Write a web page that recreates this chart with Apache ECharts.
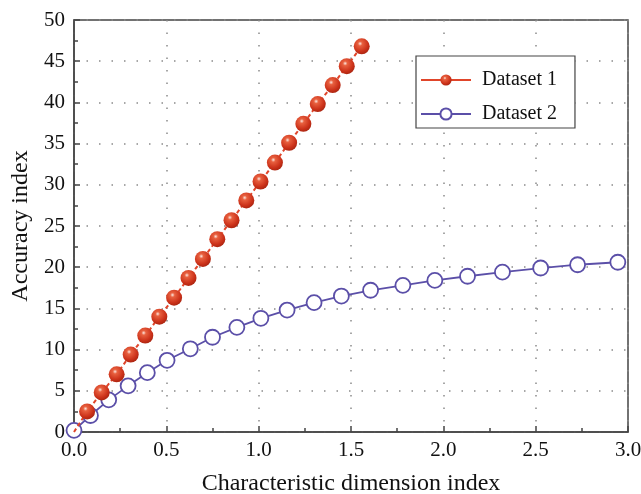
<!DOCTYPE html>
<html>
<head lang="en">
    <meta charset="UTF-8">
    <title>Accuracy index</title>
    <script src="https://cdn.jsdelivr.net/npm/echarts@6/dist/echarts.min.js"></script>
    <style>
        html, body { margin: 0; padding: 0; background: #fff; }
        #chart { width: 641px; height: 494px; }
    </style>
</head>
<body>
<div id="chart"></div>
<script>
    // values
    var dataset1X = [0, 0.071, 0.150, 0.231, 0.307, 0.386, 0.462, 0.542, 0.620, 0.698, 0.776,
                     0.853, 0.933, 1.010, 1.088, 1.165, 1.242, 1.320, 1.401, 1.477, 1.558];
    var dataset1Y = [0, 2.5, 4.8, 7.0, 9.4, 11.7, 14.0, 16.3, 18.7, 21.0, 23.4,
                     25.7, 28.1, 30.4, 32.7, 35.1, 37.4, 39.8, 42.1, 44.4, 46.8];
    var dataset2X = [0, 0.089, 0.188, 0.293, 0.397, 0.504, 0.630, 0.750, 0.882, 1.012, 1.154,
                     1.300, 1.448, 1.606, 1.781, 1.954, 2.131, 2.320, 2.527, 2.727, 2.945];
    var dataset2Y = [0.2, 2.0, 3.9, 5.6, 7.2, 8.7, 10.1, 11.5, 12.7, 13.8, 14.8,
                     15.7, 16.5, 17.2, 17.8, 18.4, 18.9, 19.4, 19.9, 20.3, 20.6];

    function pairs(xs, ys) {
        return xs.map(function (x, i) { return [x, ys[i]]; });
    }

    var d1 = pairs(dataset1X, dataset1Y);
    // the dashed line starts at the origin but there is no ball there
    d1[0] = { value: d1[0], symbol: 'none' };

    var serif = '"Liberation Serif", "DejaVu Serif", serif';
    var sphere = {
        type: 'radial', x: 0.4, y: 0.33, r: 0.7,
        colorStops: [
            { offset: 0, color: '#fde8e0' },
            { offset: 0.2, color: '#e8603f' },
            { offset: 0.7, color: '#cc321a' },
            { offset: 1, color: '#a82410' }
        ]
    };
    var split = { show: true, lineStyle: { color: '#8a8a8a', width: 1.5, type: [1.5, 11] } };

    var chart = echarts.init(document.getElementById('chart'));
    var option = {
        animation: false,
        backgroundColor: '#fff',
        grid: {
            left: 74, right: 13, top: 20, bottom: 62,
            outerBoundsMode: 'none',
            show: true, borderColor: '#444', borderWidth: 1.5
        },
        legend: {
            left: 416, top: 56,
            orient: 'vertical',
            padding: [14, 18, 4, 4],
            itemGap: 14,
            itemWidth: 50, itemHeight: 14,
            borderColor: '#444', borderWidth: 1.2,
            backgroundColor: '#fff',
            textStyle: { fontFamily: serif, fontSize: 20, color: '#111', padding: [0, 0, 0, 6] },
            data: [
                { name: 'Dataset 1', lineStyle: { type: 'solid' } },
                { name: 'Dataset 2' }
            ]
        },
        xAxis: {
            type: 'value', min: 0, max: 3, interval: 0.5,
            name: 'Characteristic dimension index',
            nameLocation: 'middle', nameGap: 40,
            nameTextStyle: { fontFamily: serif, fontSize: 24, color: '#111' },
            axisLine: { lineStyle: { color: '#444', width: 1.5 } },
            axisTick: { inside: true, length: 6, lineStyle: { color: '#444', width: 1.5 } },
            minorTick: { show: true, splitNumber: 2, length: 4, lineStyle: { color: '#444', width: 1.5 } },
            axisLabel: {
                fontFamily: serif, fontSize: 21, color: '#111', margin: 8,
                formatter: function (v) { return v.toFixed(1); }
            },
            splitLine: split
        },
        yAxis: {
            type: 'value', min: 0, max: 50, interval: 5,
            name: 'Accuracy index',
            nameLocation: 'middle', nameGap: 40,
            nameTextStyle: { fontFamily: serif, fontSize: 24, color: '#111' },
            axisLine: { show: true, lineStyle: { color: '#444', width: 1.5 } },
            axisTick: { show: true, inside: true, length: 6, lineStyle: { color: '#444', width: 1.5 } },
            minorTick: { show: true, splitNumber: 2, length: 4, lineStyle: { color: '#444', width: 1.5 } },
            axisLabel: { fontFamily: serif, fontSize: 21, color: '#111', margin: 9 },
            splitLine: split
        },
        series: [
            {
                name: 'Dataset 1',
                type: 'line',
                data: d1,
                symbol: 'circle',
                symbolSize: 16,
                z: 3,
                lineStyle: { color: '#e0452a', width: 2, type: [4, 3] },
                itemStyle: { color: sphere, borderWidth: 0 }
            },
            {
                name: 'Dataset 2',
                type: 'line',
                data: pairs(dataset2X, dataset2Y),
                symbol: 'circle',
                symbolSize: 15,
                showAllSymbol: true,
                z: 2,
                lineStyle: { color: '#5b4fa8', width: 1.8 },
                itemStyle: { color: '#fff', borderColor: '#5b4fa8', borderWidth: 1.8 }
            }
        ]
    };
    chart.setOption(option);
</script>
</body>
</html>
